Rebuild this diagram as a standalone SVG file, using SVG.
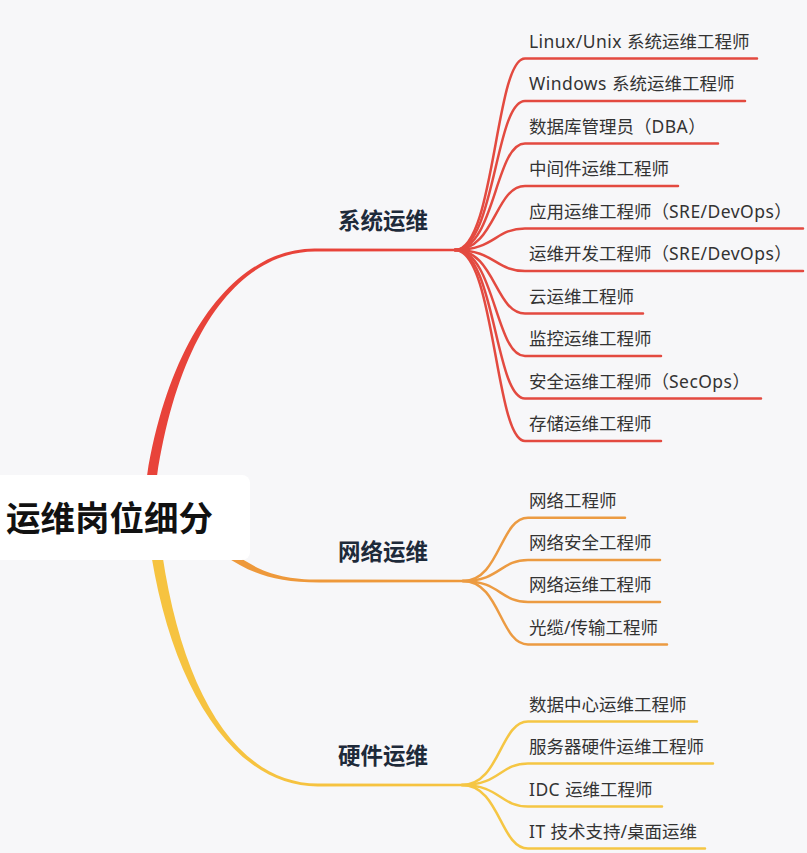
<svg xmlns="http://www.w3.org/2000/svg" width="807" height="853" viewBox="0 0 807 853">
<style>
  .bg { fill: #f7f7f9; }
  .child { fill: none; stroke-width: 2.5; stroke-linecap: round; }
  .red { stroke: #e34a40; }
  .orange { stroke: #ec9b42; }
  .yellow { stroke: #f5c644; }
  .t { font-family: "Noto Sans", "Noto Sans CJK SC", sans-serif; font-size: 17.5px; fill: #333333; }
  .lat { letter-spacing: 0.45px; }
  .main { font-family: "Noto Sans", "Noto Sans CJK SC", sans-serif; font-size: 22.5px; font-weight: bold; fill: #1e2a3a; }
  .root { font-family: "Noto Sans", "Noto Sans CJK SC", sans-serif; font-size: 34.5px; font-weight: bold; fill: #111111; }
</style>
<rect class="bg" x="0" y="0" width="807" height="853"/>

<g id="connectors">
  <!-- main branches (tapered) -->
  <path fill="#e8433a" d="M145.5,486 L147.1,475.2 C171,329.4 240,248 315,248.5 L455,248.7 L455,251.3 L315,251.5 C240,252 179,330.6 156.9,476.8 L155.5,486 Z"/>
  <path fill="#ee993b" d="M220,546 L226.9,549.1 C256.7,569.5 275,579.5 320,579.6 L463,579.7 L463,582.3 L320,582.4 C275,582.5 253.3,574.5 223.1,554.9 L216,551 Z"/>
  <path fill="#f6c340" d="M161.5,548 L162.4,555.1 C182.4,689.3 235,783.2 318,783.6 L462,783.7 L462,786.3 L318,786.4 C235,786.8 173.6,690.7 151.6,556.9 L150.6,548 Z"/>

  <!-- 系统运维 children -->
  <path class="child red" d="M455,250 C495,250 495,58.5 525,58.5 L757,58.5"/>
  <path class="child red" d="M455,250 C495,250 495,101 525,101 L745,101"/>
  <path class="child red" d="M455,250 C495,250 495,143.5 525,143.5 L718,143.5"/>
  <path class="child red" d="M455,250 C495,250 495,186 525,186 L678,186"/>
  <path class="child red" d="M455,250 C495,250 495,228.5 525,228.5 L803,228.5"/>
  <path class="child red" d="M455,250 C495,250 495,271 525,271 L803,271"/>
  <path class="child red" d="M455,250 C495,250 495,313.5 525,313.5 L643,313.5"/>
  <path class="child red" d="M455,250 C495,250 495,356 525,356 L661,356"/>
  <path class="child red" d="M455,250 C495,250 495,398.5 525,398.5 L761,398.5"/>
  <path class="child red" d="M455,250 C495,250 495,441 525,441 L661,441"/>

  <!-- 网络运维 children -->
  <path class="child orange" d="M463,581 C500,581 500,517.7 528,517.7 L625,517.7"/>
  <path class="child orange" d="M463,581 C500,581 500,560 528,560 L660,560"/>
  <path class="child orange" d="M463,581 C500,581 500,602 528,602 L660,602"/>
  <path class="child orange" d="M463,581 C500,581 500,644.5 528,644.5 L667,644.5"/>

  <!-- 硬件运维 children -->
  <path class="child yellow" d="M462,785 C500,785 500,721.5 528,721.5 L697,721.5"/>
  <path class="child yellow" d="M462,785 C500,785 500,763.5 528,763.5 L713,763.5"/>
  <path class="child yellow" d="M462,785 C500,785 500,806.5 528,806.5 L662,806.5"/>
  <path class="child yellow" d="M462,785 C500,785 500,848.5 528,848.5 L705,848.5"/>
</g>

<g id="root">
  <rect x="-10" y="475" width="260" height="85" rx="8" fill="#ffffff"/>
  <text class="root" x="6" y="531">运维岗位细分</text>
</g>

<g id="branch-system">
  <text class="main" x="338" y="229">系统运维</text>
</g>
<g id="branch-network">
  <text class="main" x="338" y="560">网络运维</text>
</g>
<g id="branch-hardware">
  <text class="main" x="338" y="764">硬件运维</text>
</g>

<g id="sys-1"><text class="t" x="529" y="47.5"><tspan class="lat">Linux/Unix </tspan>系统运维工程师</text></g>
<g id="sys-2"><text class="t" x="529" y="90"><tspan class="lat">Windows </tspan>系统运维工程师</text></g>
<g id="sys-3"><text class="t" x="529" y="132.5">数据库管理员（<tspan class="lat">DBA</tspan>）</text></g>
<g id="sys-4"><text class="t" x="529" y="175">中间件运维工程师</text></g>
<g id="sys-5"><text class="t" x="529" y="217.5">应用运维工程师（<tspan class="lat">SRE/DevOps</tspan>）</text></g>
<g id="sys-6"><text class="t" x="529" y="260">运维开发工程师（<tspan class="lat">SRE/DevOps</tspan>）</text></g>
<g id="sys-7"><text class="t" x="529" y="302.5">云运维工程师</text></g>
<g id="sys-8"><text class="t" x="529" y="345">监控运维工程师</text></g>
<g id="sys-9"><text class="t" x="529" y="387.5">安全运维工程师（<tspan class="lat">SecOps</tspan>）</text></g>
<g id="sys-10"><text class="t" x="529" y="430">存储运维工程师</text></g>

<g id="net-1"><text class="t" x="529" y="506.7">网络工程师</text></g>
<g id="net-2"><text class="t" x="529" y="549">网络安全工程师</text></g>
<g id="net-3"><text class="t" x="529" y="591">网络运维工程师</text></g>
<g id="net-4"><text class="t" x="529" y="633.5">光缆/传输工程师</text></g>

<g id="hw-1"><text class="t" x="529" y="710.5">数据中心运维工程师</text></g>
<g id="hw-2"><text class="t" x="529" y="752.5">服务器硬件运维工程师</text></g>
<g id="hw-3"><text class="t" x="529" y="795.5"><tspan class="lat">IDC </tspan>运维工程师</text></g>
<g id="hw-4"><text class="t" x="529" y="837.5"><tspan class="lat">IT </tspan>技术支持/桌面运维</text></g>
</svg>
